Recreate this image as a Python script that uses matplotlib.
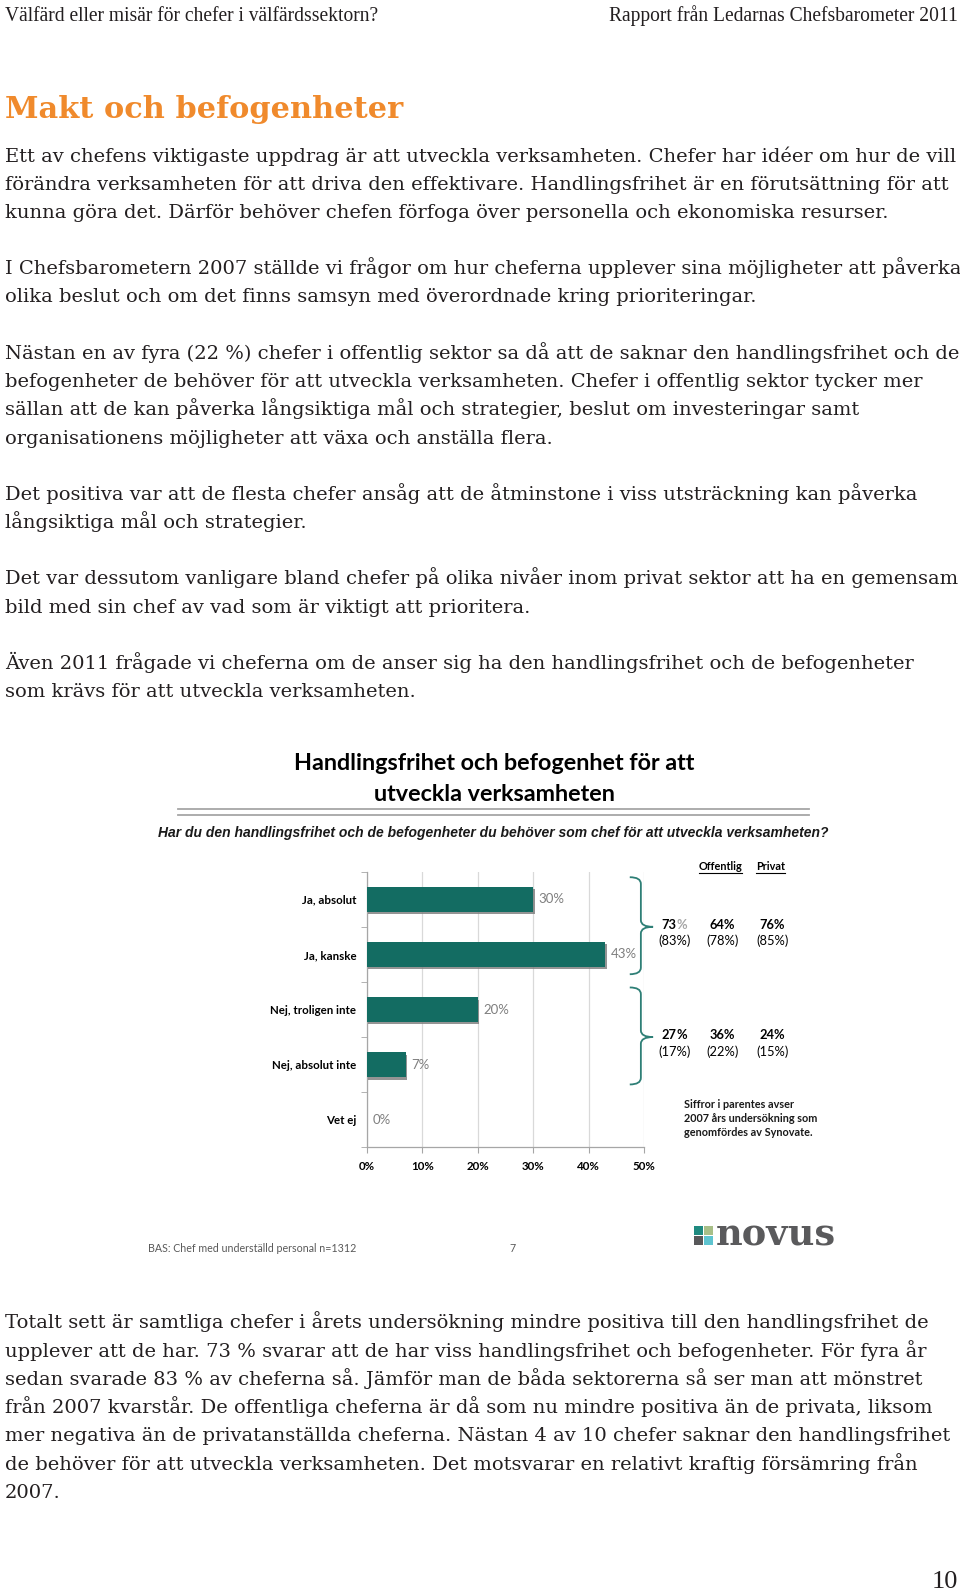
import matplotlib
matplotlib.use('Agg')
import matplotlib.pyplot as plt
import matplotlib.patheffects as pe
import matplotlib.transforms as mtransforms
from matplotlib.path import Path
from matplotlib.patches import PathPatch, Rectangle
import numpy as np

W, H = 960, 1591

# chart data
categories = ['Ja, absolut', 'Ja, kanske', 'Nej, troligen inte', 'Nej, absolut inte', 'Vet ej']
values = [30, 43, 20, 7, 0]
xticks = [0, 10, 20, 30, 40, 50]

# grouped summary (2011 and 2007 in parentheses)
groups = [(0, 1), (2, 3)]
col_headers = ['Offentlig', 'Privat']
total_2011 = [73, 27]
total_2007 = [83, 17]
offentlig_2011 = [64, 36]
offentlig_2007 = [78, 22]
privat_2011 = [76, 24]
privat_2007 = [85, 15]

# page texts
header_left = 'Välfärd eller misär för chefer i välfärdssektorn?'
header_right = 'Rapport från Ledarnas Chefsbarometer 2011'
heading = 'Makt och befogenheter'
intro_lines = [
    'Ett av chefens viktigaste uppdrag är att utveckla verksamheten. Chefer har idéer om hur de vill',
    'förändra verksamheten för att driva den effektivare. Handlingsfrihet är en förutsättning för att',
    'kunna göra det. Därför behöver chefen förfoga över personella och ekonomiska resurser.',
    '',
    'I Chefsbarometern 2007 ställde vi frågor om hur cheferna upplever sina möjligheter att påverka',
    'olika beslut och om det finns samsyn med överordnade kring prioriteringar.',
    '',
    'Nästan en av fyra (22 %) chefer i offentlig sektor sa då att de saknar den handlingsfrihet och de',
    'befogenheter de behöver för att utveckla verksamheten. Chefer i offentlig sektor tycker mer',
    'sällan att de kan påverka långsiktiga mål och strategier, beslut om investeringar samt',
    'organisationens möjligheter att växa och anställa flera.',
    '',
    'Det positiva var att de flesta chefer ansåg att de åtminstone i viss utsträckning kan påverka',
    'långsiktiga mål och strategier.',
    '',
    'Det var dessutom vanligare bland chefer på olika nivåer inom privat sektor att ha en gemensam',
    'bild med sin chef av vad som är viktigt att prioritera.',
    '',
    'Även 2011 frågade vi cheferna om de anser sig ha den handlingsfrihet och de befogenheter',
    'som krävs för att utveckla verksamheten.',
]
outro_lines = [
    'Totalt sett är samtliga chefer i årets undersökning mindre positiva till den handlingsfrihet de',
    'upplever att de har. 73 % svarar att de har viss handlingsfrihet och befogenheter. För fyra år',
    'sedan svarade 83 % av cheferna så. Jämför man de båda sektorerna så ser man att mönstret',
    'från 2007 kvarstår. De offentliga cheferna är då som nu mindre positiva än de privata, liksom',
    'mer negativa än de privatanställda cheferna. Nästan 4 av 10 chefer saknar den handlingsfrihet',
    'de behöver för att utveckla verksamheten. Det motsvarar en relativt kraftig försämring från',
    '2007.',
]
chart_title = ['Handlingsfrihet och befogenhet för att', 'utveckla verksamheten']
question = 'Har du den handlingsfrihet och de befogenheter du behöver som chef för att utveckla verksamheten?'
note_lines = ['Siffror i parentes avser', '2007 års undersökning som', 'genomfördes av Synovate.']
base_text = 'BAS: Chef med underställd personal n=1312'
slide_no = '7'
page_no = '10'

TEAL = '#136c62'
ORANGE = '#f08a2c'
TXT = '#231f20'
SERIF = 'DejaVu Serif'
HEAD = 'Liberation Serif'
SANS = 'Lato'

fig = plt.figure(figsize=(W / 100, H / 100), dpi=100)
page = fig.add_axes([0, 0, 1, 1])
page.set_xlim(0, W)
page.set_ylim(H, 0)
page.axis('off')
renderer = fig.canvas.get_renderer()


def fit(t, width):
    # scale font size so the text gets the wanted pixel width
    w = t.get_window_extent(renderer).width
    t.set_fontsize(t.get_fontsize() * width / w)
    return t.get_fontsize()


# header
t = page.text(5, 21, header_left, family=HEAD, fontsize=12, color=TXT, va='baseline')
hs = fit(t, 373)
page.text(958, 21, header_right, family=HEAD, fontsize=hs, color=TXT, va='baseline', ha='right')

t = page.text(5, 118.5, heading, family=SERIF, weight='bold', fontsize=19, color=ORANGE, va='baseline')
fit(t, 398)

# body text
t = page.text(5, 161.5, intro_lines[0], family=SERIF, fontsize=13, color=TXT, va='baseline')
bs = fit(t, 949)
for i, line in enumerate(intro_lines[1:], 1):
    if line:
        page.text(5, 161.5 + 28.2 * i, line, family=SERIF, fontsize=bs, color=TXT, va='baseline')
for i, line in enumerate(outro_lines):
    page.text(5, 1328.5 + 28.2 * i, line, family=SERIF, fontsize=bs, color=TXT, va='baseline')
page.text(958, 1588, page_no, family=HEAD, fontsize=hs * 1.35, color=TXT, va='baseline', ha='right')

# slide title block
t = page.text(494, 764, chart_title[0], family=SANS, weight='bold', fontsize=16, color='black',
              ha='center', va='center')
ts = fit(t, 404)
page.text(494, 794.6, chart_title[1], family=SANS, weight='bold', fontsize=ts, color='black',
          ha='center', va='center')
page.plot([177.6, 808.8], [808.8, 808.8], color='#a6a6a6', lw=1.3)
page.plot([177.6, 808.8], [814.9, 814.9], color='#a6a6a6', lw=1.3)
t = page.text(493, 833, question, family='Liberation Sans', style='italic', weight='bold',
              fontsize=9, color='#1a1a1a', ha='center', va='center')
fit(t, 668)

# label sizes
t = page.text(0, 0, 'Nej, troligen inte', family=SANS, weight='bold', fontsize=8)
ls = fit(t, 86)
t.remove()

# bar chart
x0, x1, y0, y1 = 366.7, 644.2, 871.7, 1147.3
ax = fig.add_axes([x0 / W, 1 - y1 / H, (x1 - x0) / W, (y1 - y0) / H])
ax.set_facecolor('none')
y = np.arange(len(categories))
bars = ax.barh(y, values, height=0.45, color=TEAL, zorder=3)
for b in bars:
    b.set_path_effects([pe.SimplePatchShadow(offset=(1.0, -1.8), shadow_rgbFace='#7a7a7a', alpha=0.8),
                        pe.Normal()])
for yi, v in zip(y, values):
    ax.annotate(f'{v}%', (v, yi), xytext=(4.0, 0), textcoords='offset points', va='center', ha='left',
                color='#7f7f7f', family=SANS, fontsize=ls * 1.15)
ax.set_xlim(0, 50)
ax.set_ylim(len(categories) - 0.5, -0.5)
ax.set_xticks(xticks)
ax.set_xticklabels([f'{v}%' for v in xticks], family=SANS, weight='bold', fontsize=ls)
ax.set_yticks(y)
ax.set_yticklabels(categories, family=SANS, weight='bold', fontsize=ls)
ax.set_yticks(np.arange(-0.5, len(categories), 1), minor=True)
ax.tick_params(axis='y', which='major', length=0, pad=7.5)
ax.tick_params(axis='y', which='minor', length=4, color='#a6a6a6')
ax.tick_params(axis='x', length=4, color='#a6a6a6', pad=6)
ax.grid(axis='x', color='#d9d9d9', lw=0.9, zorder=0)
for s in ['top', 'right']:
    ax.spines[s].set_visible(False)
for s in ['left', 'bottom']:
    ax.spines[s].set_color('#a6a6a6')
    ax.spines[s].set_linewidth(0.9)


def brace(a, b):
    top, bot, mid = a - 0.4, b + 0.36, (a + b) / 2
    xl, xs, xt = 47.4, 49.4, 51.6
    d = 0.12
    verts = [(xl, top), (xs, top), (xs, top + d), (xs, mid - d), (xs, mid), (xt, mid),
             (xs, mid), (xs, mid + d), (xs, bot - d), (xs, bot), (xl, bot)]
    codes = [Path.MOVETO, Path.CURVE3, Path.CURVE3, Path.LINETO, Path.CURVE3, Path.CURVE3,
             Path.CURVE3, Path.CURVE3, Path.LINETO, Path.CURVE3, Path.CURVE3]
    ax.add_patch(PathPatch(Path(verts, codes), fill=False, edgecolor='#2e7f76', lw=1.3,
                           clip_on=False, zorder=4))


blend = mtransforms.blended_transform_factory(page.transData, ax.transData)
col_x = [675, 722.5, 772.5]
pct_color = ['#a6a6a6', 'black']
ns_num = ls * 1.12
for g, (a, b) in enumerate(groups):
    brace(a, b)
    mid = (a + b) / 2
    top_row = [total_2011[g], offentlig_2011[g], privat_2011[g]]
    low_row = [total_2007[g], offentlig_2007[g], privat_2007[g]]
    for c in range(3):
        if c == 0:
            ax.text(col_x[0] + 1.5, mid - 0.04, f'{top_row[0]}', transform=blend, ha='right', va='center',
                    family=SANS, weight='bold', fontsize=ns_num, color='black')
            ax.text(col_x[0] + 1.5, mid - 0.04, '%', transform=blend, ha='left', va='center',
                    family=SANS, weight='bold', fontsize=ns_num, color=pct_color[g])
        else:
            ax.text(col_x[c], mid - 0.04, f'{top_row[c]}%', transform=blend, ha='center', va='center',
                    family=SANS, weight='bold', fontsize=ns_num, color='black')
        ax.text(col_x[c], mid + 0.26, f'({low_row[c]}%)', transform=blend, ha='center', va='center',
                family=SANS, fontsize=ns_num, color='black')

# column headers, underlined
inv = page.transData.inverted()
for cx, name in zip(col_x[1:], col_headers):
    t = page.text(cx - 2, 870.5, name, family=SANS, weight='bold', fontsize=ls * 0.95, color='black',
                  ha='center', va='baseline')
    bb = t.get_window_extent(renderer)
    (px0, _), (px1, _) = inv.transform([[bb.x0, bb.y0], [bb.x1, bb.y1]])
    page.plot([px0, px1], [872.5, 872.5], color='black', lw=0.8)

# note
t = page.text(684.3, 1118.3, note_lines[1], family=SANS, weight='bold', fontsize=8, color='#1a1a1a',
              va='center')
ns = fit(t, 134)
for yy, line in zip([1104.3, 1132.3], [note_lines[0], note_lines[2]]):
    page.text(684.3, yy, line, family=SANS, weight='bold', fontsize=ns, color='#1a1a1a', va='center')

# slide footer
t = page.text(148, 1248, base_text, family=SANS, fontsize=8, color='#595959', va='center')
fs = fit(t, 207)
page.text(512.5, 1248, slide_no, family=SANS, fontsize=fs, color='#595959', va='center', ha='center')

# novus logo
sq_colors = [['#1f8a80', '#a8bf88'], ['#58585a', '#5ec4d0']]
for r in range(2):
    for c in range(2):
        page.add_patch(Rectangle((694 + c * 10, 1226 + r * 10), 8.6, 8.6, color=sq_colors[r][c], lw=0))
t = page.text(716, 1245.5, 'novus', family='DejaVu Serif', weight='bold', fontsize=22, color='#5a5a5c',
              va='baseline')
fit(t, 120)

fig.savefig('out.png', dpi=100)
